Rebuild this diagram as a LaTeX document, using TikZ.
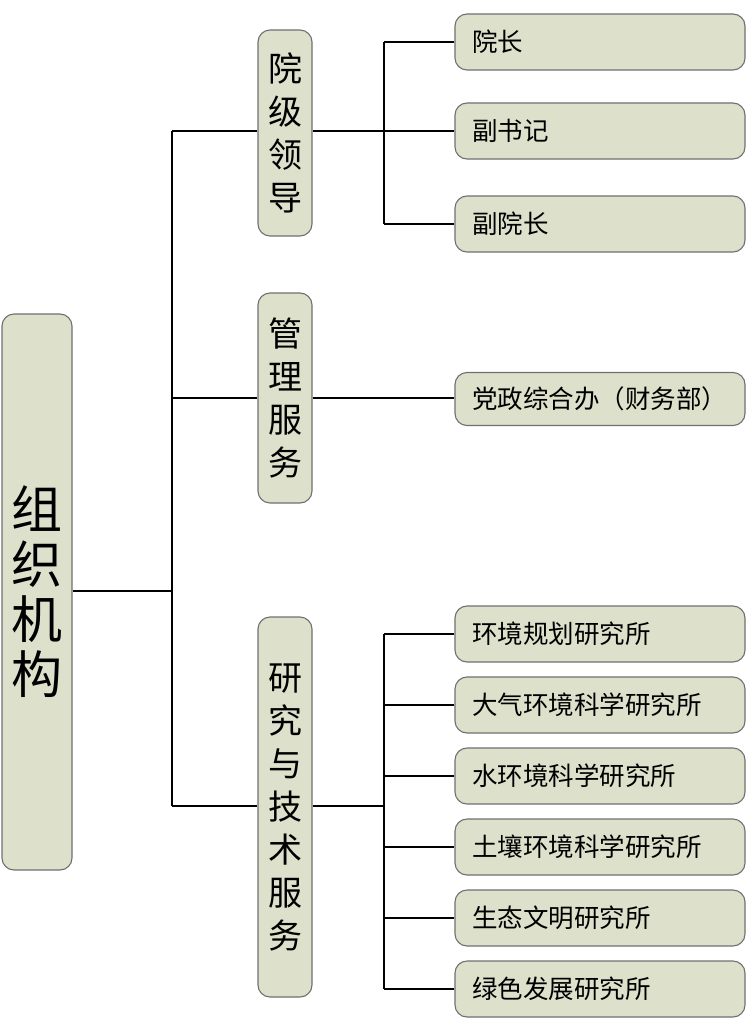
\documentclass[tikz,border=0pt]{standalone}
\usepackage{fontspec}
\newfontfamily\cjk{Noto Sans CJK SC}
\definecolor{boxfill}{HTML}{DDE0CB}
\definecolor{boxline}{HTML}{707070}
\begin{document}
\begin{tikzpicture}[x=1pt,y=-1pt,
  box/.style={draw=boxline,fill=boxfill,line width=1.1pt,rounded corners=12pt,inner sep=0pt},
  rootbox/.style={box,minimum width=70pt,minimum height=556pt,font=\cjk\fontsize{51}{55}\selectfont,align=center},
  midbox/.style={box,minimum width=54pt,font=\cjk\fontsize{34}{43}\selectfont,align=center},
  leaf/.style={box,minimum width=290pt,minimum height=56pt,font=\cjk\fontsize{25.5}{30}\selectfont,text width=256pt,align=left},
  conn/.style={draw=black,line width=1.8pt}]
\useasboundingbox (0,0) rectangle (746,1022);
\fill[white] (0,0) rectangle (746,1022);

\node[rootbox] (root) at (37,592) {组\\织\\机\\构};

\node[midbox,minimum height=206pt] (m1) at (285,133) {院\\级\\领\\导};
\node[midbox,minimum height=210pt] (m2) at (285,398) {管\\理\\服\\务};
\node[midbox,minimum height=380pt] (m3) at (285,807) {研\\究\\与\\技\\术\\服\\务};

\node[leaf] (a1) at (600,42) {院长};
\node[leaf] (a2) at (600,131) {副书记};
\node[leaf] (a3) at (600,224) {副院长};
\node[leaf,minimum height=53pt] (b1) at (600,399) {党政综合办（财务部）};
\node[leaf] (c1) at (600,634) {环境规划研究所};
\node[leaf] (c2) at (600,705) {大气环境科学研究所};
\node[leaf] (c3) at (600,776) {水环境科学研究所};
\node[leaf] (c4) at (600,847) {土壤环境科学研究所};
\node[leaf] (c5) at (600,918) {生态文明研究所};
\node[leaf] (c6) at (600,989) {绿色发展研究所};

\coordinate (t1) at (172,131);
\coordinate (t3) at (172,806);
\coordinate (ba) at (384,131);
\coordinate (bc) at (384,806);

% trunk
\draw[conn] (t1) -- (t3);
\draw[conn] (root.east |- 0,591) -- (t1 |- 0,591);
\draw[conn] (t1) -- (m1.west |- t1);
\draw[conn] (t1 |- m2.west) -- (m2.west);
\draw[conn] (t3) -- (m3.west |- t3);

% group 1
\draw[conn] (m1.east |- ba) -- (ba);
\draw[conn] (ba |- a1.west) -- (ba |- a3.west);
\draw[conn] (ba |- a1.west) -- (a1.west);
\draw[conn] (ba |- a2.west) -- (a2.west);
\draw[conn] (ba |- a3.west) -- (a3.west);

% group 2
\draw[conn] (m2.east) -- (b1.west |- m2.east);

% group 3
\draw[conn] (m3.east |- bc) -- (bc);
\draw[conn] (bc |- c1.west) -- (bc |- c6.west);
\foreach \n in {c1,c2,c3,c4,c5,c6}
  \draw[conn] (bc |- \n.west) -- (\n.west);
\end{tikzpicture}
\end{document}
